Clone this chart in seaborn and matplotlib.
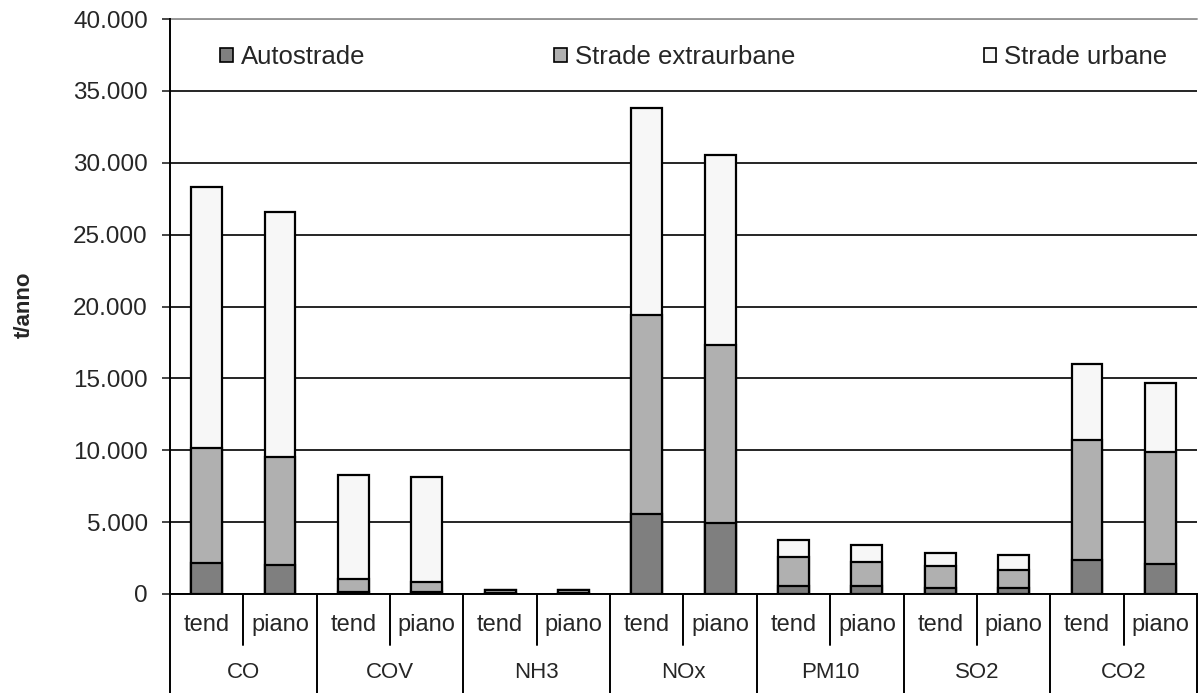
import numpy as np
import pandas as pd
import seaborn as sns
import matplotlib.pyplot as plt
from matplotlib.patches import Patch
from matplotlib.ticker import FuncFormatter

# Data (t/anno)
pollutants = ["CO", "COV", "NH3", "NOx", "PM10", "SO2", "CO2"]
scenarios = ["tend", "piano"]
autostrade = [2150, 2000, 150, 150, 80, 80, 5550, 4950, 550, 550, 400, 400, 2400, 2100]
extraurbane = [8000, 7550, 870, 700, 170, 170, 13850, 12350, 2000, 1700, 1550, 1300, 8300, 7750]
urbane = [18150, 17000, 7260, 7290, 30, 30, 14400, 13250, 1200, 1180, 880, 1000, 5300, 4850]

slots = [f"{p} {s}" for p in pollutants for s in scenarios]
df = pd.DataFrame({"slot": slots, "Autostrade": autostrade,
                   "Strade extraurbane": extraurbane, "Strade urbane": urbane})
df["cum_a"] = df["Autostrade"]
df["cum_e"] = df["cum_a"] + df["Strade extraurbane"]
df["cum_u"] = df["cum_e"] + df["Strade urbane"]

sns.set_style("white")
plt.rcParams["font.family"] = ["Liberation Sans", "DejaVu Sans"]

fig = plt.figure(figsize=(11.99, 6.93), dpi=100)
ax = fig.add_axes([170 / 1199, 1 - 594 / 693, 1027 / 1199, 575 / 693])

colors = {"cum_u": "#f7f7f7", "cum_e": "#b0b0b0", "cum_a": "#7f7f7f"}
for col in ["cum_u", "cum_e", "cum_a"]:
    sns.barplot(data=df, x="slot", y=col, order=slots, color=colors[col],
                saturation=1, width=0.42, edgecolor="black", linewidth=1.6, ax=ax)

ax.set_xlim(-0.5, 13.5)
ax.set_ylim(0, 40000)
ax.set_yticks(np.arange(0, 40001, 5000))
ax.yaxis.set_major_formatter(FuncFormatter(lambda v, p: f"{int(v):,}".replace(",", ".")))
ax.tick_params(axis="y", labelsize=17.5, length=6, width=1.2, direction="out", left=True, pad=10)
ax.set_xticks([])
ax.set_xlabel("")
ax.set_ylabel("")
fig.text(24 / 1199, 1 - 305 / 693, "t/anno", rotation=90, ha="center", va="center",
         fontsize=16, fontweight="bold")
ax.yaxis.grid(True, color="black", linewidth=1.2)
ax.set_axisbelow(True)
for s in ["top", "right"]:
    ax.spines[s].set_visible(False)
for s in ["left", "bottom"]:
    ax.spines[s].set_color("black")
    ax.spines[s].set_linewidth(1.4)
ax.axhline(40000, color="#999999", linewidth=1.4, clip_on=False)

# category table below the axis
tr = ax.get_xaxis_transform()
for i in range(len(pollutants)):
    ax.plot([2 * i + 0.5] * 2, [0, -0.088], transform=tr, color="black", lw=1.4, clip_on=False)
for i in range(len(pollutants) + 1):
    ax.plot([2 * i - 0.5] * 2, [0, -0.175], transform=tr, color="black", lw=1.4, clip_on=False)
for i, s in enumerate(slots):
    ax.text(i, -0.054, s.split()[1], transform=tr, ha="center", va="center", fontsize=17)
for i, p in enumerate(pollutants):
    ax.text(2 * i + 0.5, -0.136, p, transform=tr, ha="center", va="center", fontsize=16)

handles = [Patch(facecolor=colors[c], edgecolor="black", linewidth=1.2)
           for c in ["cum_a", "cum_e", "cum_u"]]
ax.legend(handles, ["Autostrade", "Strade extraurbane", "Strade urbane"],
          loc="center left", bbox_to_anchor=(0.049, 0.934, 0.922, 0), mode="expand",
          ncol=3, frameon=False, fontsize=18.5, handlelength=0.5, handleheight=0.5,
          handletextpad=0.3, borderaxespad=0, borderpad=0)

fig.savefig("out.png", dpi=100)
